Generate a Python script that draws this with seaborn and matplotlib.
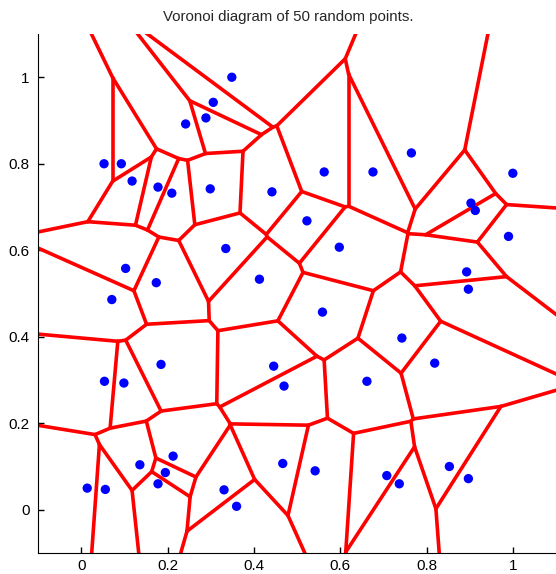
import numpy as np
import pandas as pd
import matplotlib
matplotlib.use("Agg")
import matplotlib.pyplot as plt
import matplotlib.tri as mtri
import seaborn as sns

# the 50 points
px = [0.349, 0.306, 0.289, 0.242, 0.053, 0.093, 0.118, 0.178, 0.210, 0.299,
      0.442, 0.335, 0.103, 0.174, 0.413, 0.563, 0.676, 0.765, 1.000, 0.903,
      0.913, 0.523, 0.598, 0.990, 0.893, 0.897, 0.071, 0.185, 0.054, 0.099,
      0.446, 0.213, 0.136, 0.195, 0.178, 0.014, 0.056, 0.331, 0.360, 0.467,
      0.559, 0.743, 0.819, 0.470, 0.662, 0.542, 0.708, 0.737, 0.853, 0.897]
py = [1.000, 0.942, 0.906, 0.892, 0.800, 0.800, 0.760, 0.746, 0.732, 0.742,
      0.735, 0.604, 0.558, 0.525, 0.533, 0.781, 0.781, 0.825, 0.778, 0.709,
      0.692, 0.668, 0.607, 0.632, 0.550, 0.510, 0.486, 0.336, 0.297, 0.293,
      0.332, 0.124, 0.104, 0.086, 0.060, 0.050, 0.047, 0.046, 0.008, 0.107,
      0.457, 0.397, 0.339, 0.286, 0.297, 0.090, 0.079, 0.060, 0.100, 0.072]
ticks = [0, 0.2, 0.4, 0.6, 0.8, 1]
tick_labels = ["0", "0.2", "0.4", "0.6", "0.8", "1"]

pts = np.column_stack([px, py])
df = pd.DataFrame({"x": px, "y": py})

# voronoi edges from the delaunay triangulation
tri = mtri.Triangulation(df.x, df.y)
T = tri.triangles
A, B, C = pts[T[:, 0]], pts[T[:, 1]], pts[T[:, 2]]
d = 2 * (A[:, 0] * (B[:, 1] - C[:, 1]) + B[:, 0] * (C[:, 1] - A[:, 1]) + C[:, 0] * (A[:, 1] - B[:, 1]))
a2, b2, c2 = (A ** 2).sum(1), (B ** 2).sum(1), (C ** 2).sum(1)
cx = (a2 * (B[:, 1] - C[:, 1]) + b2 * (C[:, 1] - A[:, 1]) + c2 * (A[:, 1] - B[:, 1])) / d
cy = (a2 * (C[:, 0] - B[:, 0]) + b2 * (A[:, 0] - C[:, 0]) + c2 * (B[:, 0] - A[:, 0])) / d
cc = np.column_stack([cx, cy])
center = pts.mean(0)

segs = []
for t in range(len(T)):
    for k in range(3):
        nb = tri.neighbors[t, k]
        if nb > t:
            segs.append((cc[t], cc[nb]))
        elif nb == -1:
            # open cell: ray going outward, perpendicular to the hull edge
            p, q = pts[T[t, k]], pts[T[t, (k + 1) % 3]]
            tg = (q - p) / np.linalg.norm(q - p)
            n = np.array([-tg[1], tg[0]])
            mid = (p + q) / 2
            direc = np.sign(np.dot(mid - center, n)) * n
            segs.append((cc[t], cc[t] + direc * 5))

fig = plt.figure(figsize=(5.56, 5.74), dpi=100)
sns.set_style("ticks")
ax = fig.add_axes([38 / 556, 21 / 574, 518 / 556, 519 / 574])

for s0, s1 in segs:
    ax.plot([s0[0], s1[0]], [s0[1], s1[1]], color="red", lw=2.6, solid_capstyle="round")

sns.scatterplot(data=df, x="x", y="y", ax=ax, color="blue", s=45, edgecolor="none", zorder=3)

ax.set_xlim(-0.1, 1.1)
ax.set_ylim(-0.1, 1.1)
ax.set_xticks(ticks)
ax.set_yticks(ticks)
fnt = ["Liberation Sans", "DejaVu Sans"]
ax.set_xticklabels(tick_labels, family=fnt, fontsize=11)
ax.set_yticklabels(tick_labels, family=fnt, fontsize=11)
ax.set_xlabel("")
ax.set_ylabel("")
ax.tick_params(direction="in", length=4, width=1, colors="black")
ax.tick_params(axis="x", pad=4)
ax.tick_params(axis="y", pad=6)
ax.spines["top"].set_visible(False)
ax.spines["right"].set_visible(False)
ax.spines["left"].set_color("black")
ax.spines["bottom"].set_color("black")

fig.text(288 / 556, 1 - 17 / 574, "Voronoi diagram of 50 random points.", ha="center", va="center",
         family=fnt, fontsize=10.8)

fig.savefig("out.png", dpi=100)
